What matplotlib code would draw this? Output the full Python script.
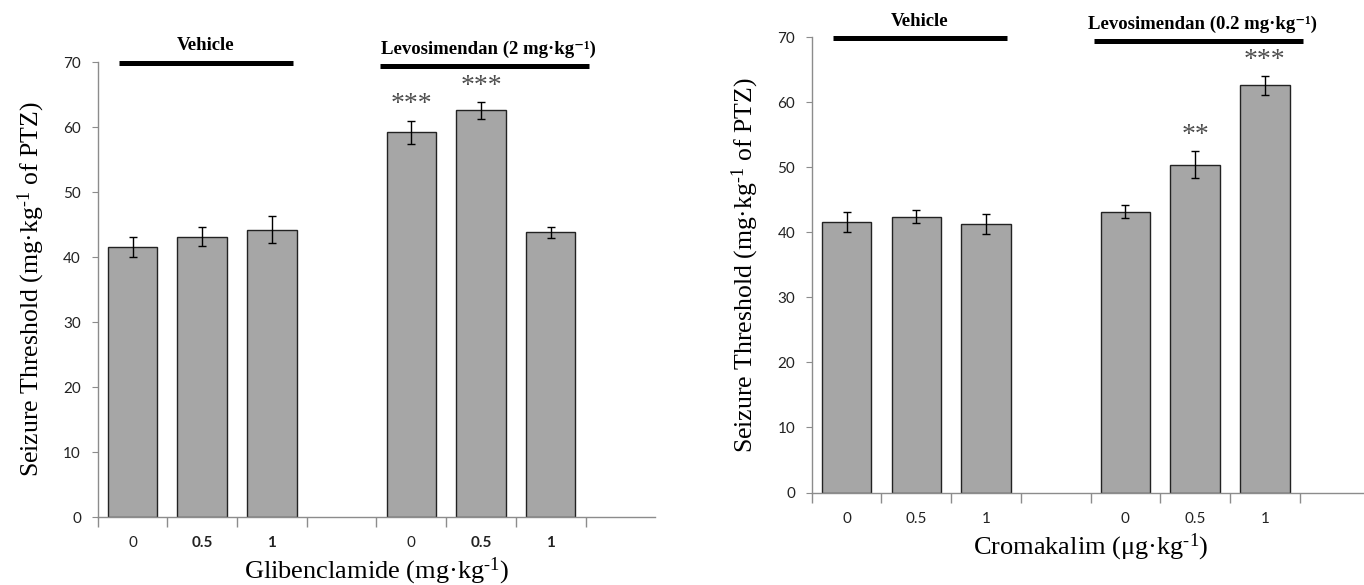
import numpy as np
import matplotlib
matplotlib.use("Agg")
import matplotlib.pyplot as plt

plt.rcParams['mathtext.fontset'] = 'custom'
plt.rcParams['mathtext.rm'] = 'Liberation Serif'
plt.rcParams['mathtext.it'] = 'Liberation Serif:italic'
plt.rcParams['mathtext.bf'] = 'Liberation Serif:bold'

# data
doses = ["0", "0.5", "1"]

glib_vehicle = [41.5, 43.1, 44.2]
glib_vehicle_err = [1.55, 1.45, 2.05]
glib_levo = [59.2, 62.6, 43.8]
glib_levo_err = [1.8, 1.3, 0.85]
glib_stars = ["", "", "", "***", "***", ""]

crom_vehicle = [41.6, 42.4, 41.3]
crom_vehicle_err = [1.6, 1.0, 1.5]
crom_levo = [43.2, 50.4, 62.6]
crom_levo_err = [1.0, 2.05, 1.5]
crom_stars = ["", "", "", "", "**", "***"]

SERIF = "Liberation Serif"
SANS = "Lato"
BAR_COLOR = "#a6a6a6"
AXIS_COLOR = "#8c8c8c"

fig = plt.figure(figsize=(13.64, 5.85), dpi=100)


def panel(ax, vehicle, vehicle_err, levo, levo_err, stars, bold_ticks,
          levo_title, xlabel):
    pos = np.array([0, 1, 2, 4, 5, 6])
    vals = vehicle + levo
    errs = vehicle_err + levo_err
    ax.bar(pos, vals, width=0.71, color=BAR_COLOR, edgecolor="#222222",
           linewidth=1.0, zorder=2)
    ax.errorbar(pos, vals, yerr=errs, fmt="none", ecolor="black",
                elinewidth=1.0, capsize=3, capthick=1.0, zorder=3)
    for p, v, e, s in zip(pos, vals, errs, stars):
        if s:
            ax.text(p, v + e + 2.4, s, ha="center", va="center",
                    fontsize=20, family=SERIF, color="#4d4d4d")

    ax.set_xlim(-0.5, 7.5)
    ax.set_ylim(0, 70)
    ax.set_yticks(np.arange(0, 71, 10))

    # labels at category centres, tick marks at category boundaries
    ax.set_xticks(np.arange(8))
    labels = doses + [""] + doses + [""]
    ax.set_xticklabels(labels)
    ax.set_xticks(np.arange(8) - 0.5, minor=True)
    ax.tick_params(axis="x", which="major", length=0, pad=14,
                   labelsize=11, labelcolor="#222222")
    ax.tick_params(axis="x", which="minor", length=7, color=AXIS_COLOR,
                   width=1)
    ax.tick_params(axis="y", length=4, color=AXIS_COLOR, labelsize=11,
                   labelcolor="#222222", pad=8)
    for lab in ax.get_xticklabels() + ax.get_yticklabels():
        lab.set_family(SANS)
    for i, lab in enumerate(ax.get_xticklabels()):
        if labels[i] in bold_ticks:
            lab.set_fontweight("bold")

    for side in ("top", "right"):
        ax.spines[side].set_visible(False)
    for side in ("left", "bottom"):
        ax.spines[side].set_color(AXIS_COLOR)
        ax.spines[side].set_linewidth(1.0)

    ax.set_ylabel(r"Seizure Threshold (mg·kg$^{\text{-1}}$ of PTZ)",
                  family=SERIF, fontsize=18.5, labelpad=12)
    ax.set_xlabel(xlabel, family=SERIF, fontsize=19, labelpad=4)

    # group bars and titles
    ax.plot([pos[0] - 0.2, pos[2] + 0.3], [69.9, 69.9], color="black",
            lw=3.6, clip_on=False, solid_capstyle="butt")
    ax.plot([pos[3] - 0.45, pos[5] + 0.55], [69.4, 69.4], color="black",
            lw=3.6, clip_on=False, solid_capstyle="butt")
    ax.text(pos[1] + 0.05, 72.5, "Vehicle", ha="center", va="center",
            family=SERIF, fontweight="bold", fontsize=13.5)
    ax.text(pos[4] + 0.1, 72.0, levo_title, ha="center", va="center",
            family=[SERIF, "DejaVu Serif"], fontweight="bold", fontsize=13.5)


ax1 = fig.add_axes([0.0716, 0.1162, 0.4088, 0.7778])
panel(ax1, glib_vehicle, glib_vehicle_err, glib_levo, glib_levo_err,
      glib_stars, ("0.5", "1"), "Levosimendan (2 mg·kg⁻¹)",
      r"Glibenclamide (mg·kg$^{\text{-1}}$)")

ax2 = fig.add_axes([0.5951, 0.1581, 0.4088, 0.7781])
panel(ax2, crom_vehicle, crom_vehicle_err, crom_levo, crom_levo_err,
      crom_stars, (), "Levosimendan (0.2 mg·kg⁻¹)",
      r"Cromakalim (μg·kg$^{\text{-1}}$)")

fig.savefig("out.png", dpi=100)
